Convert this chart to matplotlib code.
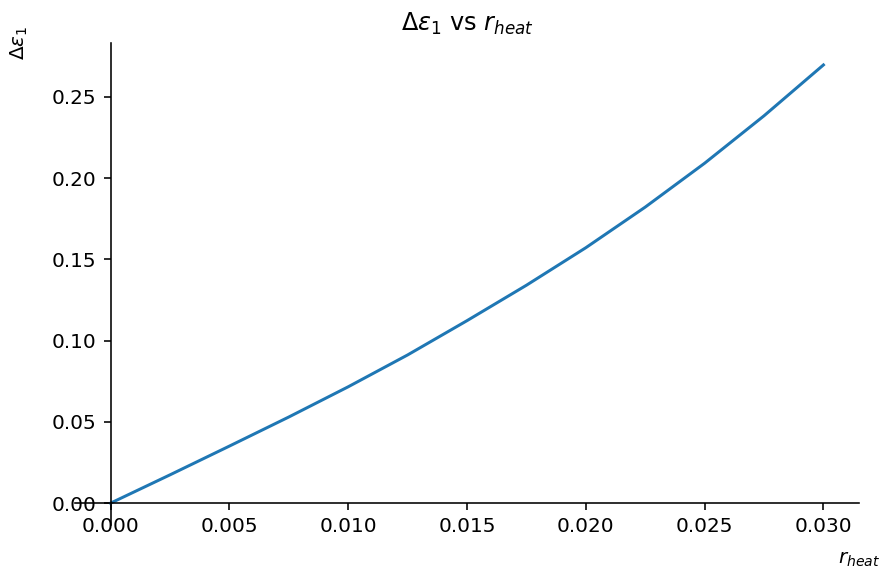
import numpy as np
import matplotlib
matplotlib.use("Agg")
import matplotlib.pyplot as plt

# values
r_heat = [0.0, 0.0025, 0.005, 0.0075, 0.010, 0.0125, 0.015, 0.0175, 0.020, 0.0225, 0.025, 0.0275, 0.030]
d_eps1 = [0.0, 0.0174, 0.0351, 0.0530, 0.0716, 0.0912, 0.1123, 0.1341, 0.1572, 0.1822, 0.2092, 0.2384, 0.2697]

fig = plt.figure(figsize=(885 / 144, 576 / 144), dpi=144)
ax = fig.add_axes([0.0847, 0.0885, 0.886, 0.8368])

ax.plot(r_heat, d_eps1)

# spines through the origin, like the reference
ax.spines['left'].set_position(('data', 0))
ax.spines['bottom'].set_position(('data', 0))
ax.spines['top'].set_visible(False)
ax.spines['right'].set_visible(False)

ax.set_title(r'$\Delta\varepsilon_1$ vs $r_{heat}$')
ax.set_ylabel(r'$\Delta\varepsilon_1$')
ax.set_xlabel(r'$r_{heat}$')
ax.yaxis.set_label_coords(-0.057, 1.0)
ax.xaxis.set_label_coords(1.0, -0.052)

fig.savefig('out.png', dpi=144)
